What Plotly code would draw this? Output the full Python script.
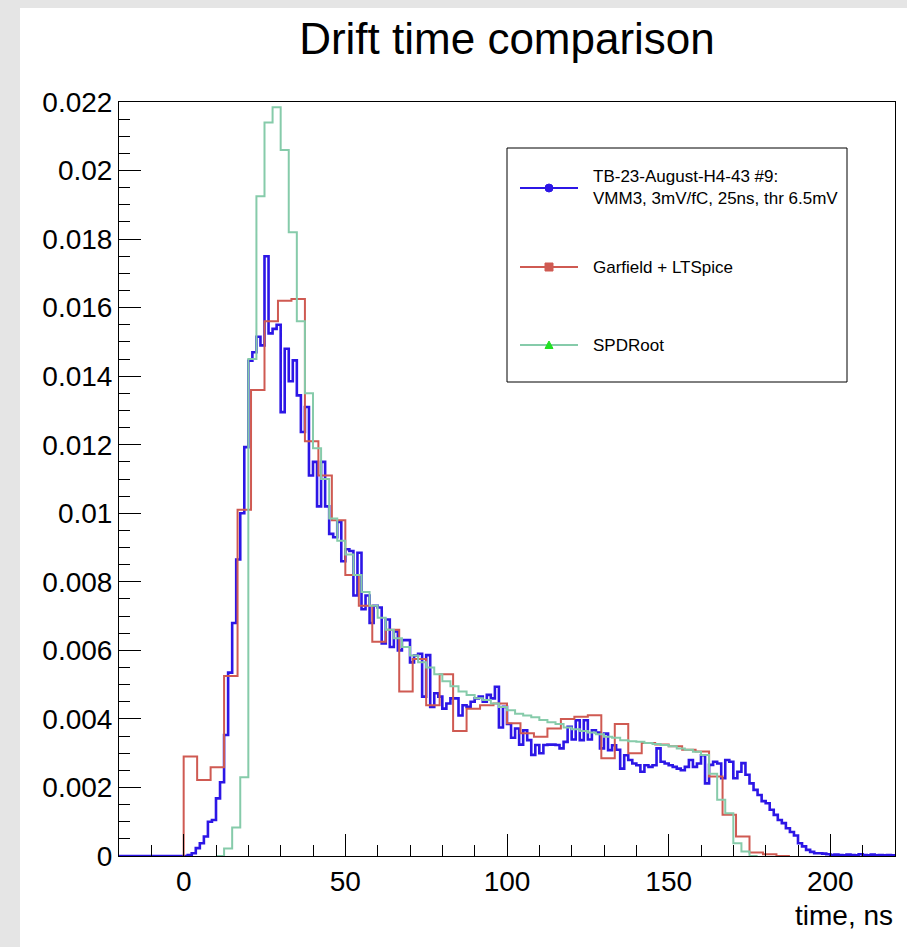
import plotly.graph_objects as go

# ---------------- data (bin contents) ----------------
X_RANGE = [-20, 220]
Y_RANGE = [0, 0.022]

# TB-23-August-H4-43 #9 (measured), 1.25 ns bins starting at -20 ns
blue_start, blue_width = -20.0, 1.25
blue_vals = [
    0, 0, 0, 0, 0, 0, 0, 0, 0, 0,
    0, 0, 0, 0, 0, 0, 0, 0.00003, 0.00008, 0.00023,
    0.00037, 0.00057, 0.00100, 0.00105, 0.00168, 0.00215, 0.00353, 0.00535, 0.00680, 0.00865,
    0.01000, 0.01193, 0.01445, 0.01470, 0.01515, 0.01490, 0.01750, 0.01525, 0.01538, 0.01550,
    0.01295, 0.01480, 0.01385, 0.01446, 0.01344, 0.01237, 0.01310, 0.01110, 0.01150, 0.01020,
    0.01150, 0.01020, 0.00940, 0.00930, 0.00975, 0.00860, 0.00895, 0.00890, 0.00760, 0.00885,
    0.00720, 0.00760, 0.00680, 0.00730, 0.00725, 0.00620, 0.00690, 0.00610, 0.00655, 0.00600,
    0.00630, 0.00630, 0.00565, 0.00585, 0.00590, 0.00465, 0.00586, 0.00435, 0.00475, 0.00465,
    0.00430, 0.00445, 0.00460, 0.00460, 0.00410, 0.00440, 0.00435, 0.00450, 0.00460, 0.00465,
    0.00450, 0.00470, 0.00460, 0.00494, 0.00375, 0.00435, 0.00385, 0.00345, 0.00372, 0.00325,
    0.00367, 0.00338, 0.00295, 0.00324, 0.00300, 0.00324, 0.00325, 0.00325, 0.00324, 0.00314,
    0.00333, 0.00377, 0.00340, 0.00396, 0.00338, 0.00396, 0.00340, 0.00367, 0.00360, 0.00314,
    0.00357, 0.00309, 0.00323, 0.00310, 0.00255, 0.00294, 0.00280, 0.00270, 0.00265, 0.00246,
    0.00265, 0.00260, 0.00265, 0.00314, 0.00275, 0.00270, 0.00265, 0.00260, 0.00255, 0.00250,
    0.00260, 0.00280, 0.00260, 0.00270, 0.00294, 0.00212, 0.00266, 0.00275, 0.00270, 0.00227,
    0.00280, 0.00275, 0.00227, 0.00246, 0.00271, 0.00237, 0.00212, 0.00193, 0.00178, 0.00160,
    0.00154, 0.00135, 0.00120, 0.00105, 0.00096, 0.00081, 0.00070, 0.00060, 0.00037, 0.00028,
    0.00018, 0.00012, 0.00008, 0.00008, 0.00007, 0.00005, 0.00003, 0.00004, 0.00003, 0.00002,
    0.00004, 0.00003, 0.00002, 0.00005, 0.00003, 0.00002, 0.00004, 0.00002, 0.00003, 0.00002,
    0.00003, 0.00002,
]

# Garfield + LTSpice, 250/60 ns bins starting at 0 ns
red_start, red_width = 0.0, 250.0 / 60.0
red_vals = [
    0.00290, 0.00222, 0.00259, 0.00525, 0.01010, 0.01360, 0.01560, 0.01620, 0.01625, 0.01210,
    0.01110, 0.00980, 0.00820, 0.00730, 0.00625, 0.00660, 0.00480, 0.00575, 0.00440, 0.00530,
    0.00365, 0.00430, 0.00440, 0.00445, 0.00387, 0.00358, 0.00348, 0.00372, 0.00400, 0.00406,
    0.00411, 0.00285, 0.00385, 0.00300, 0.00330, 0.00325, 0.00320, 0.00310, 0.00305, 0.00232,
    0.00120, 0.00057, 0.00010, 0.00005, 0,
]

# SPDRoot, 2.5 ns bins starting at 10 ns
green_start, green_width = 10.0, 2.5
green_vals = [
    0, 0.00022, 0.00083, 0.00230, 0.01450, 0.01925, 0.02140, 0.02185, 0.02060, 0.01820,
    0.01560, 0.01350, 0.01190, 0.01100, 0.00985, 0.00920, 0.00880, 0.00820, 0.00770, 0.00730,
    0.00695, 0.00660, 0.00635, 0.00610, 0.00585, 0.00565, 0.00550, 0.00530, 0.00510, 0.00495,
    0.00480, 0.00470, 0.00460, 0.00455, 0.00445, 0.00435, 0.00425, 0.00415, 0.00410, 0.00405,
    0.00397, 0.00390, 0.00385, 0.00375, 0.00370, 0.00365, 0.00360, 0.00355, 0.00348, 0.00345,
    0.00338, 0.00335, 0.00333, 0.00330, 0.00327, 0.00324, 0.00320, 0.00314, 0.00310, 0.00304,
    0.00295, 0.00240, 0.00164, 0.00125, 0.00037, 0.00013, 0,
]

names = ["TB-23-August-H4-43 #9:<br>VMM3, 3mV/fC, 25ns, thr 6.5mV",
         "Garfield + LTSpice",
         "SPDRoot"]

BLUE = "#2c16e6"
RED = "#cf5a52"
GREEN = "#86cbaa"
GREEN_MARK = "#22e022"

FONT = "Liberation Sans, Arial, Helvetica, sans-serif"


def step_xy(start, width, vals, from_zero):
    xs = [start + width * i for i in range(len(vals) + 1)]
    ys = list(vals) + [vals[-1]]
    if from_zero:
        xs = [start] + xs
        ys = [0] + ys
    return xs, ys


fig = go.Figure()
for (start, width, vals, col, lw, fz, nm) in [
    (blue_start, blue_width, blue_vals, BLUE, 2.6, False, names[0]),
    (red_start, red_width, red_vals, RED, 2.0, True, names[1]),
    (green_start, green_width, green_vals, GREEN, 2.0, False, names[2]),
]:
    xs, ys = step_xy(start, width, vals, fz)
    fig.add_trace(go.Scatter(x=xs, y=ys, mode="lines", line=dict(color=col, width=lw, shape="hv"),
                             name=nm.replace("<br>", " "), showlegend=False, hoverinfo="skip"))

# ---------------- layout ----------------
W, H = 907, 947
L, R, T, B = 119, 12, 102, 91
PW, PH = W - L - R, H - T - B


def px(sx):
    return (sx - L) / PW


def py(sy):
    return (H - B - sy) / PH


shapes = []
annotations = []

# grey canvas frame with white pad
shapes.append(dict(type="rect", xref="paper", yref="paper", x0=px(20), x1=px(W + 5), y0=py(H + 5), y1=py(8),
                   fillcolor="white", line=dict(width=0), layer="below"))

# legend box
lx0, lx1, ly0, ly1 = 507, 847, 148, 382
shapes.append(dict(type="rect", xref="paper", yref="paper", x0=px(lx0), x1=px(lx1), y0=py(ly1), y1=py(ly0),
                   fillcolor="white", line=dict(color="black", width=1)))
entry_y = [188, 267, 345]
line_cols = [BLUE, RED, GREEN]
for k, yy in enumerate(entry_y):
    shapes.append(dict(type="line", xref="paper", yref="paper", x0=px(520), x1=px(578), y0=py(yy), y1=py(yy),
                       line=dict(color=line_cols[k], width=2)))
    annotations.append(dict(xref="paper", yref="paper", x=px(591), y=py(yy), text=names[k], showarrow=False,
                            xanchor="left", yanchor="middle", align="left",
                            font=dict(family=FONT, size=17, color="black")))
# legend markers
shapes.append(dict(type="circle", xref="paper", yref="paper", x0=px(545), x1=px(553), y0=py(192), y1=py(184),
                   fillcolor=BLUE, line=dict(color=BLUE, width=1)))
shapes.append(dict(type="rect", xref="paper", yref="paper", x0=px(545), x1=px(553), y0=py(271), y1=py(263),
                   fillcolor=RED, line=dict(color=RED, width=1)))
shapes.append(dict(type="path", xref="paper", yref="paper",
                   path="M {:.5f},{:.5f} L {:.5f},{:.5f} L {:.5f},{:.5f} Z".format(
                       px(545), py(348.5), px(553), py(348.5), px(549), py(341)),
                   fillcolor=GREEN_MARK, line=dict(color=GREEN_MARK, width=1)))

# x-axis title (ROOT style, right aligned under the axis)
annotations.append(dict(xref="paper", yref="paper", x=1.0, y=py(915), text="time, ns", showarrow=False,
                        xanchor="right", yanchor="middle", font=dict(family=FONT, size=28, color="black")))

fig.update_layout(
    width=W, height=H,
    margin=dict(l=L, r=R, t=T, b=B),
    paper_bgcolor="#e5e5e5",
    plot_bgcolor="white",
    showlegend=False,
    title=dict(text="Drift time comparison", x=507 / W, xref="container", xanchor="center",
               y=1 - 39 / H, yref="container", yanchor="middle",
               font=dict(family=FONT, size=44, color="black")),
    shapes=shapes,
    annotations=annotations,
    font=dict(family=FONT, color="black"),
)

fig.update_xaxes(range=X_RANGE, dtick=50, tick0=0, ticks="inside", ticklen=22, tickwidth=1, tickcolor="black",
                 minor=dict(dtick=10, tick0=0, ticks="inside", ticklen=11, tickwidth=1, tickcolor="black"),
                 showgrid=False, zeroline=False, showline=True, linecolor="black", linewidth=1, mirror=True,
                 tickfont=dict(family=FONT, size=28, color="black"))
fig.update_yaxes(range=Y_RANGE, dtick=0.002, tick0=0, ticks="inside", ticklen=22, tickwidth=1, tickcolor="black",
                 minor=dict(dtick=0.0005, tick0=0, ticks="inside", ticklen=11, tickwidth=1, tickcolor="black"),
                 showgrid=False, zeroline=False, showline=True, linecolor="black", linewidth=1, mirror=True,
                 tickfont=dict(family=FONT, size=28, color="black"))

fig.write_html("out.html")
